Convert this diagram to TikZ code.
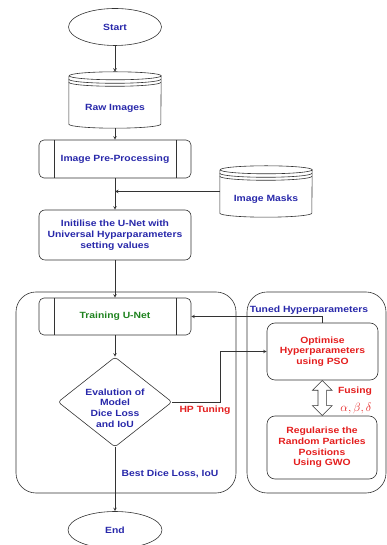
\documentclass[tikz,border=0pt]{standalone}
\usepackage{fontspec}
\setmainfont[FakeStretch=1.15]{Liberation Sans}
\usepackage{xcolor}
\usetikzlibrary{shapes.geometric,shapes.arrows,calc}
\definecolor{txtblue}{RGB}{40,40,170}
\definecolor{txtred}{RGB}{228,30,30}
\definecolor{txtgreen}{RGB}{30,130,30}

% data store drawn round a named node: node, half width
\newcommand{\drawstore}[2]{%
  \draw[edge] ([yshift=-4pt]#1.north west) -- ([yshift=4pt]#1.south west)
    arc[start angle=180,end angle=360,x radius=#2pt,y radius=4pt]
    -- ([yshift=-4pt]#1.north east)
    arc[start angle=0,end angle=180,x radius=#2pt,y radius=4pt]
    arc[start angle=180,end angle=360,x radius=#2pt,y radius=4pt];
  \draw[edge] ([yshift=-7.5pt]#1.north west) arc[start angle=180,end angle=360,x radius=#2pt,y radius=4pt];
  \draw[edge] ([yshift=-10.5pt]#1.north west) arc[start angle=180,end angle=360,x radius=#2pt,y radius=4pt];
}

\begin{document}
\begin{tikzpicture}[x=1pt,y=1pt,
    font=\bfseries\fontsize{9}{10.7}\selectfont,
    edge/.style={draw=black!80,line width=0.6pt},
    arr/.style={edge,-stealth},
    term/.style={edge,ellipse,minimum width=93pt,minimum height=37pt,inner sep=0pt,text=txtblue},
    store/.style={inner sep=0pt,minimum width=92pt,text height=22pt,text=txtblue},
    box/.style={edge,rounded corners=6pt,minimum width=152pt,inner sep=0pt,align=center,text=txtblue},
    proc/.style={box,rounded corners=5pt,minimum height=37pt,
      path picture={
        \draw[edge] ([xshift=15pt]path picture bounding box.north west) -- ([xshift=15pt]path picture bounding box.south west);
        \draw[edge] ([xshift=-15pt]path picture bounding box.north east) -- ([xshift=-15pt]path picture bounding box.south east);}},
    sidebox/.style={box,rounded corners=8pt,minimum width=111pt,text=txtred},
    group/.style={edge,rounded corners=20pt}]
    \useasboundingbox (0,0) rectangle (387,545);

    % containers
    \draw[group] (16,253) rectangle (236,52);
    \draw[group] (247,253) rectangle (386,52);

    % main flow
    \node[term] (start) at (115,518) {Start};
    \node[store,minimum height=56pt] (raw) at (115,445) {Raw Images};
    \drawstore{raw}{46}
    \node[proc,minimum height=38pt] (pre) at (115,386) {Image Pre-Processing};
    \node[store,minimum height=51pt] (masks) at (266,353.5) {Image Masks};
    \drawstore{masks}{46}
    \node[box,minimum height=50pt] (init) at (115,310) {Initilise the U-Net with\\Universal Hyparparameters\\setting values};
    \node[proc,text=txtgreen] (train) at (115,228.5) {Training U-Net};
    \node[edge,diamond,minimum width=114pt,minimum height=90pt,inner sep=0pt,rounded corners=3pt] (eval) at (115,143) {};
    \node[align=center,text=txtblue] (evaltxt) at ([yshift=-6pt]eval.center) {Evalution of\\Model\\Dice Loss\\and IoU};
    \node[term,minimum width=94pt] (end) at (115,15) {End};

    % tuning side
    \node[sidebox,minimum height=57pt] (opt) at (322.5,193.5) {Optimise\\Hyperparameters\\using PSO};
    \node[sidebox,minimum width=110pt,minimum height=63pt] (reg) at (322,97.5) {Regularise the\\Random Particles\\Positions\\Using GWO};
    \node[edge,fill=white,double arrow,shape border rotate=90,minimum height=35pt,
      double arrow head extend=5.5pt,inner sep=4pt] (fuse) at ($(opt.south)!0.5!(reg.north)$) {};

    % connectors
    \draw[arr] (start) -- (raw);
    \draw[arr] (raw) -- (pre);
    \draw[arr] (pre) -- (init);
    \draw[arr] (masks.west) -- (masks.west -| pre.south);
    \draw[arr] (init) -- (train);
    \draw[arr] (train) -- (eval);
    \draw[arr] (eval.east) -- ++(48,0) |- (opt.west);
    \draw[arr] (opt.north) |- (train.east);
    \draw[arr] (eval.south) -- (end.north);

    % text
    \node[text=txtblue] (tuned) at (309,235) {Tuned Hyperparameters};
    \node[text=txtred] (hptune) at (205,135) {HP Tuning};
    \node[text=txtred] (fusing) at (355,154) {Fusing};
    \node[text=txtred,font=\fontsize{11.5}{13}\selectfont] (greek) at (356,136) {$\alpha, \beta, \delta$};
    \node[text=txtblue] (best) at (170,71) {Best Dice Loss, IoU};
\end{tikzpicture}
\end{document}
